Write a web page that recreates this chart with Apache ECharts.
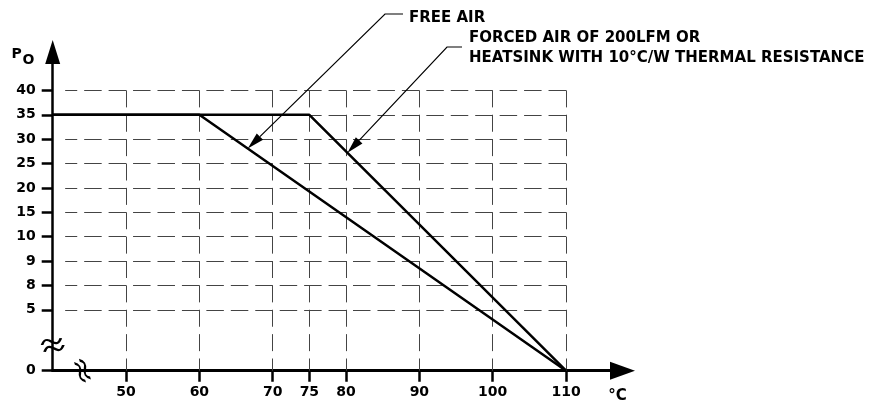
<!DOCTYPE html>
<html><head><meta charset="utf-8">
<script src="https://cdn.jsdelivr.net/npm/echarts@6/dist/echarts.min.js"></script>
<style>html,body{margin:0;padding:0;background:#fff}#c{width:874px;height:409px}</style>
</head><body><div id="c"></div>
<script>
// ---- data ----
const tempTicks = [50, 60, 70, 75, 80, 90, 100, 110];
const powerTicks = [0, 5, 8, 9, 10, 15, 20, 25, 30, 35, 40];
const freeAirTemp = [40, 60, 110];
const freeAirPower = [35, 35, 0];
const forcedAirTemp = [40, 75, 110];
const forcedAirPower = [35, 35, 0];
const annotationFree = 'FREE AIR';
const annotationForced = ['FORCED AIR OF 200LFM OR', 'HEATSINK WITH 10°C/W THERMAL RESISTANCE'];
const yAxisTitle = ['P', 'O'];
const xAxisUnit = '°C';

// broken power axis: 0 sits 2.5 steps below 5, the other ticks one step apart
const powerSlots = powerTicks.map((v, i) => (i === 0 ? 0 : i + 1.5));
function toSlot(p) {
  for (let i = 1; i < powerTicks.length; i++) {
    if (p <= powerTicks[i]) {
      const a = powerTicks[i - 1], b = powerTicks[i];
      return powerSlots[i - 1] + (p - a) / (b - a) * (powerSlots[i] - powerSlots[i - 1]);
    }
  }
  return powerSlots[powerSlots.length - 1];
}
function slotLabel(s) {
  const i = powerSlots.findIndex(v => Math.abs(v - s) < 1e-6);
  return i < 0 ? '' : String(powerTicks[i]);
}

const FONT = '"DejaVu Sans", sans-serif';
const gridLeftTemp = 41.7, gridRightTemp = 110;

const hLines = powerTicks.slice(1).map(p => [{ coord: [gridRightTemp, toSlot(p)] }, { coord: [gridLeftTemp, toSlot(p)] }]);
const vLines = tempTicks.map(t => [{ coord: [t, toSlot(40)] }, { coord: [t, 0] }]);

const chart = echarts.init(document.getElementById('c'), null, { renderer: 'canvas' });

const option = {
  animation: false,
  backgroundColor: '#fff',
  grid: { left: 52.7, right: 251.5, top: 52, bottom: 38.3, containLabel: false },
  xAxis: {
    type: 'value', min: 40, max: 117.7,
    axisLine: { onZero: true, lineStyle: { color: '#000', width: 3 }, symbol: ['none', 'triangle'], symbolSize: [18, 25] },
    axisTick: { show: true, length: 11, lineStyle: { color: '#000', width: 2.5 }, customValues: tempTicks },
    axisLabel: { customValues: tempTicks, margin: 15, color: '#000', fontFamily: FONT, fontWeight: 'bold', fontSize: 14 },
    splitLine: { show: false }
  },
  yAxis: {
    type: 'value', min: 0, max: 13.075,
    axisLine: { lineStyle: { color: '#000', width: 2.5 }, symbol: ['none', 'triangle'], symbolSize: [15, 24] },
    axisTick: { show: true, length: 11, lineStyle: { color: '#000', width: 2.5 }, customValues: powerSlots },
    axisLabel: { customValues: powerSlots, formatter: v => slotLabel(v), margin: 17, color: '#000', fontFamily: FONT, fontWeight: 'bold', fontSize: 14 },
    splitLine: { show: false }
  },
  series: [
    {
      type: 'line', data: [], silent: true,
      markLine: {
        silent: true, symbol: ['none', 'none'], label: { show: false }, z: 1, animation: false,
        emphasis: { disabled: true },
        lineStyle: { color: '#444', width: 1, type: [17.5, 6.94] },
        data: hLines
      }
    },
    {
      type: 'line', data: [], silent: true,
      markLine: {
        silent: true, symbol: ['none', 'none'], label: { show: false }, z: 1, animation: false,
        emphasis: { disabled: true },
        lineStyle: { color: '#444', width: 1, type: [17, 7.375] },
        data: vLines
      },
      markPoint: {
        silent: true, z: 6, animation: false,
        label: { show: false },
        itemStyle: { color: 'rgba(0,0,0,0)', borderColor: '#000', borderWidth: 2.4 },
        data: [
          { coord: [40, 1.054], symbol: 'path://M0,6 C5,0 9,0 14,6 S23,12 28,6 M0,16 C5,10 9,10 14,16 S23,22 28,16', symbolSize: [20, 14], symbolRotate: 20 },
          { coord: [44.06, 0], symbol: 'path://M0,6 C5,0 9,0 14,6 S23,12 28,6 M0,16 C5,10 9,10 14,16 S23,22 28,16', symbolSize: [21, 11], symbolRotate: -58 }
        ]
      }
    },
    {
      name: 'FREE AIR', type: 'line', z: 3, symbol: 'none', silent: true,
      lineStyle: { color: '#000', width: 2.5 },
      data: freeAirTemp.map((t, i) => [t, toSlot(freeAirPower[i])])
    },
    {
      name: 'FORCED AIR', type: 'line', z: 3, symbol: 'none', silent: true,
      lineStyle: { color: '#000', width: 2.5 },
      data: forcedAirTemp.map((t, i) => [t, toSlot(forcedAirPower[i])])
    }
  ]
};
chart.setOption(option);

// ---- annotations with leader arrows (tips placed on the drawn lines) ----
function onLine(xs, ps, x) {
  for (let i = 1; i < xs.length; i++) {
    if (x <= xs[i]) {
      const f = (x - xs[i - 1]) / (xs[i] - xs[i - 1]);
      const s0 = toSlot(ps[i - 1]), s1 = toSlot(ps[i]);
      return s0 + f * (s1 - s0);
    }
  }
  return toSlot(ps[ps.length - 1]);
}
const freeTip = chart.convertToPixel({ gridIndex: 0 }, [66.6, onLine(freeAirTemp, freeAirPower, 66.6)]);
const forcedTip = chart.convertToPixel({ gridIndex: 0 }, [80.2, onLine(forcedAirTemp, forcedAirPower, 80.2)]);

function leader(start, elbow, tip) {
  const dx = elbow[0] - tip[0], dy = elbow[1] - tip[1];
  const len = Math.hypot(dx, dy), ux = dx / len, uy = dy / len;
  const L = 17, W = 4.5;
  const base = [tip[0] + ux * L, tip[1] + uy * L];
  return [
    { type: 'polyline', silent: true, z: 10, shape: { points: [start, elbow, base] }, style: { stroke: '#000', lineWidth: 1.2, fill: null } },
    { type: 'polygon', silent: true, z: 10, shape: { points: [tip, [base[0] - uy * W, base[1] + ux * W], [base[0] + uy * W, base[1] - ux * W]] }, style: { fill: '#000' } }
  ];
}

const txt = (x, y, text, size, align) => ({
  type: 'text', silent: true, z: 10, x: x, y: y,
  style: { text: text, font: 'bold ' + size + 'px ' + FONT, fill: '#000', align: align || 'left', verticalAlign: 'middle' }
});

chart.setOption({
  graphic: [
    ...leader([403, 14], [385, 14], freeTip),
    ...leader([462, 47], [447, 47], forcedTip),
    txt(409, 18, annotationFree, 15),
    txt(469, 38, annotationForced[0], 15),
    txt(469, 58, annotationForced[1], 15),
    txt(11.5, 54, yAxisTitle[0], 14),
    txt(22.5, 60, yAxisTitle[1], 14),
    txt(617.5, 396, xAxisUnit, 15, 'center')
  ]
});
</script>
</body></html>
